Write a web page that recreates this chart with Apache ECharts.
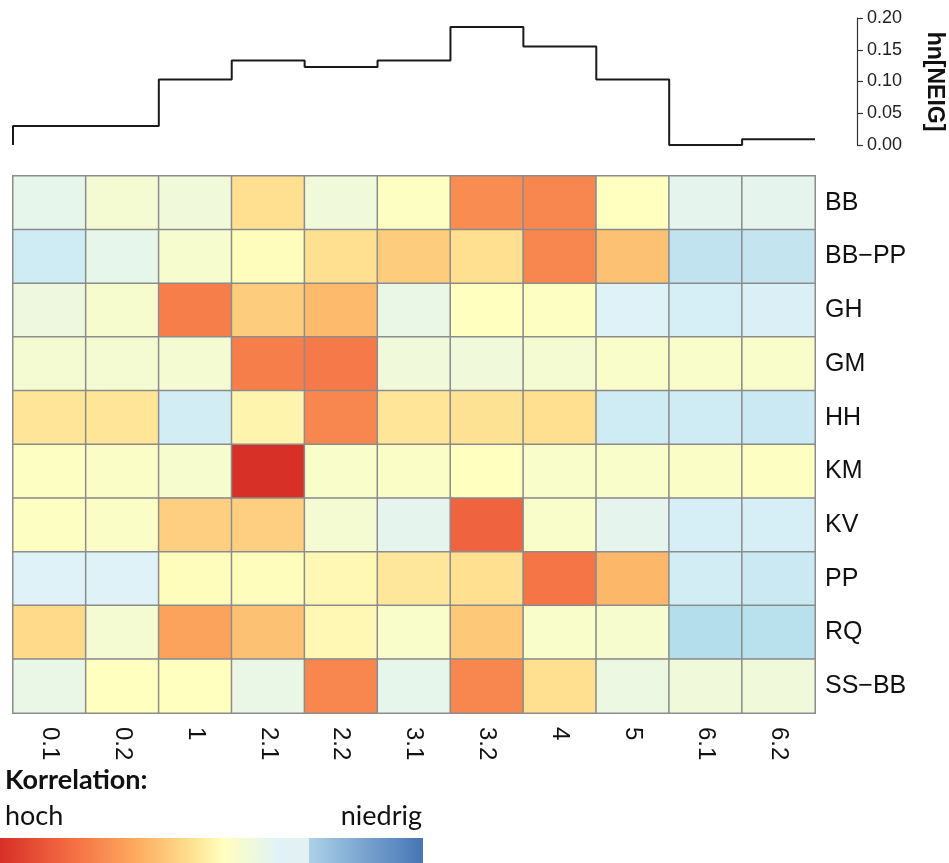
<!DOCTYPE html>
<html>
<head>
<meta charset="utf-8">
<script src="https://cdn.jsdelivr.net/npm/echarts@6/dist/echarts.min.js"></script>
<style>
html,body{margin:0;padding:0;background:#fff;}
#chart{width:949px;height:863px;}
</style>
</head>
<body>
<div id="chart"></div>
<script>
// ---- data ----
const xCategories = ['0.1','0.2','1','2.1','2.2','3.1','3.2','4','5','6.1','6.2'];
const yCategories = ['BB','BB\u2212PP','GH','GM','HH','KM','KV','PP','RQ','SS\u2212BB'];

// correlation strength per row (1 = hoch, 0 = niedrig), columns as xCategories
const corrBB   = [0.32, 0.38, 0.36, 0.57, 0.36, 0.42, 0.79, 0.80, 0.43, 0.31, 0.31];
const corrBBPP = [0.24, 0.32, 0.39, 0.44, 0.57, 0.63, 0.57, 0.80, 0.66, 0.20, 0.21];
const corrGH   = [0.35, 0.39, 0.82, 0.63, 0.68, 0.33, 0.43, 0.42, 0.28, 0.26, 0.27];
const corrGM   = [0.38, 0.38, 0.38, 0.82, 0.83, 0.36, 0.36, 0.38, 0.40, 0.40, 0.40];
const corrHH   = [0.55, 0.55, 0.25, 0.48, 0.80, 0.55, 0.56, 0.57, 0.24, 0.24, 0.23];
const corrKM   = [0.42, 0.41, 0.39, 1.00, 0.40, 0.41, 0.43, 0.40, 0.40, 0.41, 0.42];
const corrKV   = [0.42, 0.41, 0.62, 0.62, 0.38, 0.31, 0.88, 0.40, 0.31, 0.26, 0.26];
const corrPP   = [0.28, 0.28, 0.44, 0.44, 0.46, 0.54, 0.57, 0.84, 0.69, 0.25, 0.23];
const corrRQ   = [0.59, 0.38, 0.74, 0.66, 0.46, 0.40, 0.64, 0.40, 0.39, 0.17, 0.18];
const corrSSBB = [0.33, 0.43, 0.43, 0.33, 0.80, 0.32, 0.80, 0.57, 0.34, 0.36, 0.36];

// hn[NEIG] step profile
const hnStart  = 0.0;
const hnValues = [0.030, 0.030, 0.103, 0.133, 0.123, 0.133, 0.186, 0.155, 0.103, 0.000, 0.009];
const hnTicks  = [0, 0.05, 0.10, 0.15, 0.20];

// ---- build ----
const matrix = [corrBB, corrBBPP, corrGH, corrGM, corrHH, corrKM, corrKV, corrPP, corrRQ, corrSSBB];
const heatData = [];
matrix.forEach((row, yi) => row.forEach((v, xi) => heatData.push([xi, yi, v])));

const stepData = [[0, hnStart]];
hnValues.forEach((v, i) => stepData.push([i + 1, v]));

const palette = ['#4575b4','#abd9e9','#e0f3f8','#ffffbf','#fee090','#fdae61','#f46d43','#d73027'];

const chart = echarts.init(document.getElementById('chart'), null, {renderer: 'canvas'});
const axisFont = '"Liberation Sans", Arial, Helvetica, sans-serif';
const legendFont = 'Lato, "Open Sans", sans-serif';

chart.setOption({
  animation: false,
  backgroundColor: '#fff',
  grid: [
    {left: 13, width: 802, top: 18, height: 127, containLabel: false, outerBoundsMode: 'none'},
    {left: 13, width: 802, top: 176, height: 537, containLabel: false, outerBoundsMode: 'none'}
  ],
  xAxis: [
    {gridIndex: 0, type: 'value', min: 0, max: 11, show: false},
    {gridIndex: 1, type: 'category', data: xCategories,
     axisLine: {show: false}, axisTick: {show: false}, splitLine: {show: false},
     axisLabel: {rotate: -90, margin: 14, fontSize: 24, color: '#111', fontFamily: axisFont}}
  ],
  yAxis: [
    {gridIndex: 0, type: 'value', position: 'right', offset: 42,
     min: 0, max: hnTicks[hnTicks.length - 1], interval: hnTicks[1] - hnTicks[0],
     axisLine: {show: true, onZero: false, lineStyle: {color: '#333', width: 1.2}},
     axisTick: {show: true, inside: false, length: 6, lineStyle: {color: '#333', width: 1.2}},
     splitLine: {show: false},
     axisLabel: {margin: 10, fontSize: 18, color: '#222', fontFamily: axisFont,
                 formatter: v => v.toFixed(2)},
     name: 'hn[NEIG]', nameLocation: 'middle', nameRotate: -90, nameGap: 66,
     nameTextStyle: {fontSize: 23, fontWeight: 'bold', color: '#111', fontFamily: axisFont}},
    {gridIndex: 1, type: 'category', data: yCategories, inverse: true, position: 'right',
     axisLine: {show: false}, axisTick: {show: false}, splitLine: {show: false},
     axisLabel: {margin: 10, fontSize: 25, color: '#111', fontFamily: axisFont}}
  ],
  visualMap: {
    type: 'continuous', show: false, min: 0, max: 1, seriesIndex: 1,
    inRange: {color: palette}
  },
  series: [
    {type: 'line', xAxisIndex: 0, yAxisIndex: 0, data: stepData, step: 'start',
     symbol: 'none', lineStyle: {color: '#1a1a1a', width: 2}},
    {type: 'heatmap', xAxisIndex: 1, yAxisIndex: 1, data: heatData,
     itemStyle: {borderColor: '#8c8c8c', borderWidth: 1.5}}
  ],
  graphic: [
    {type: 'text', left: 5, top: 767,
     style: {text: 'Korrelation:', font: 'bold 27px ' + legendFont, fill: '#111'}},
    {type: 'text', left: 5, top: 803,
     style: {text: 'hoch', font: '27px ' + legendFont, fill: '#111'}},
    {type: 'text', right: 949 - 422, top: 803,
     style: {text: 'niedrig', font: '27px ' + legendFont, fill: '#111', textAlign: 'right'}},
    {type: 'rect', left: 0, top: 838, shape: {x: 0, y: 0, width: 423, height: 25},
     style: {fill: new echarts.graphic.LinearGradient(0, 0, 1, 0, [
       {offset: 0.00, color: '#d73027'},
       {offset: 0.17, color: '#f46d43'},
       {offset: 0.33, color: '#fdae61'},
       {offset: 0.45, color: '#fee090'},
       {offset: 0.53, color: '#ffffbf'},
       {offset: 0.66, color: '#e0f3f8'},
       {offset: 0.73, color: '#e4f1f4'},
       {offset: 0.731, color: '#abd0e8'},
       {offset: 1.00, color: '#4575b4'}
     ])}}
  ]
});
</script>
</body>
</html>
